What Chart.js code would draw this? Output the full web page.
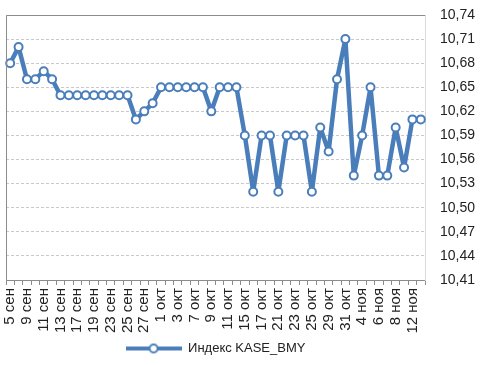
<!DOCTYPE html>
<html>
<head>
<meta charset="utf-8">
<script src="https://cdn.jsdelivr.net/npm/chart.js@4"></script>
<style>
  html, body { margin: 0; padding: 0; background: #fff; }
  #wrap { width: 487px; height: 365px; }
</style>
</head>
<body>
<div id="wrap"><canvas id="chart"></canvas></div>
<script>
// Trading days, Sep-Nov
const dates = ['5 сен','6 сен','9 сен','10 сен','11 сен','12 сен','13 сен','16 сен','17 сен','18 сен',
  '19 сен','20 сен','23 сен','24 сен','25 сен','26 сен','27 сен','30 сен','1 окт','2 окт',
  '3 окт','4 окт','7 окт','8 окт','9 окт','10 окт','11 окт','14 окт','15 окт','16 окт',
  '17 окт','18 окт','21 окт','22 окт','23 окт','24 окт','25 окт','28 окт','29 окт','30 окт',
  '31 окт','1 ноя','4 ноя','5 ноя','6 ноя','7 ноя','8 ноя','11 ноя','12 ноя','13 ноя'];

const indexValues = [10.68, 10.70, 10.66, 10.66, 10.67, 10.66, 10.64, 10.64, 10.64, 10.64,
  10.64, 10.64, 10.64, 10.64, 10.64, 10.61, 10.62, 10.63, 10.65, 10.65,
  10.65, 10.65, 10.65, 10.65, 10.62, 10.65, 10.65, 10.65, 10.59, 10.52,
  10.59, 10.59, 10.52, 10.59, 10.59, 10.59, 10.52, 10.60, 10.57, 10.66,
  10.71, 10.54, 10.59, 10.65, 10.54, 10.54, 10.60, 10.55, 10.61, 10.61];

const seriesName = 'Индекс KASE_BMY';
const yMin = 10.41, yMax = 10.74, yStep = 0.03;

const blue = '#4a7ebb';
const font = 'Liberation Sans';

// legend marker: line with a hollow circle
function legendMarker() {
  const c = document.createElement('canvas');
  c.width = 56; c.height = 12;
  const g = c.getContext('2d');
  g.strokeStyle = blue;
  g.lineWidth = 4;
  g.beginPath(); g.moveTo(0, 6); g.lineTo(56, 6); g.stroke();
  g.fillStyle = '#fff';
  g.lineWidth = 2;
  g.beginPath(); g.arc(28, 6, 4, 0, Math.PI * 2); g.fill(); g.stroke();
  return c;
}

// top/left border of the plot area
const frame = {
  id: 'frame',
  afterDraw(chart) {
    const { ctx, chartArea: a } = chart;
    ctx.save();
    ctx.strokeStyle = '#8c8c8c';
    ctx.lineWidth = 1;
    ctx.beginPath();
    ctx.moveTo(a.left + 0.5, a.bottom);
    ctx.lineTo(a.left + 0.5, a.top + 0.5);
    ctx.lineTo(a.right, a.top + 0.5);
    ctx.stroke();
    ctx.restore();
  }
};

new Chart(document.getElementById('chart'), {
  type: 'line',
  data: {
    labels: dates,
    datasets: [{
      label: seriesName,
      data: indexValues,
      borderColor: blue,
      borderWidth: 4.5,
      borderJoinStyle: 'round',
      pointRadius: 4,
      pointBorderWidth: 2,
      pointBackgroundColor: '#fff',
      pointBorderColor: blue,
      tension: 0
    }]
  },
  options: {
    responsive: true,
    maintainAspectRatio: false,
    animation: false,
    layout: { padding: { left: 5, top: 0, right: 0, bottom: 0 } },
    plugins: {
      tooltip: { enabled: false },
      legend: {
        position: 'bottom',
        fullSize: false,
        labels: {
          usePointStyle: true,
          pointStyle: legendMarker(),
          pointStyleWidth: 56,
          color: '#222',
          font: { family: font, size: 13 },
          padding: 3
        }
      }
    },
    scales: {
      x: {
        offset: true,
        afterFit: s => { s.height = 59; },
        grid: { offset: true, drawOnChartArea: false, drawTicks: true, tickLength: 5, color: '#8c8c8c' },
        border: { color: '#8c8c8c' },
        ticks: {
          autoSkip: false,
          minRotation: 90,
          maxRotation: 90,
          padding: 3,
          color: '#222',
          font: { family: font, size: 15 },
          callback: (v, i) => i % 2 === 0 ? dates[i] : ''
        }
      },
      y: {
        position: 'right',
        min: yMin,
        max: yMax,
        afterFit: s => { s.width = 62; s.paddingTop = 15; s.paddingBottom = 8; },
        ticks: {
          stepSize: yStep,
          padding: 15,
          color: '#222',
          font: { family: font, size: 14 },
          callback: v => v.toFixed(2).replace('.', ',')
        },
        grid: { drawTicks: false, color: '#c8c8c8' },
        border: { color: '#d9d9d9', dash: [3, 2] }
      }
    }
  },
  plugins: [frame]
});
</script>
</body>
</html>
